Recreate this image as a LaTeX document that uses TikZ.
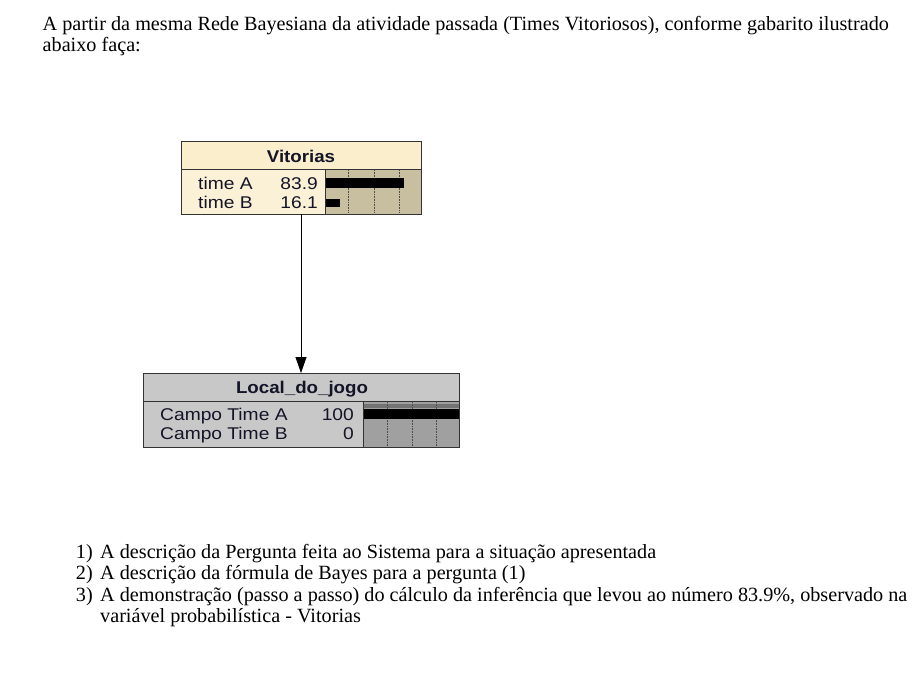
\documentclass[tikz,border=0pt]{standalone}
\usepackage{fontspec}
\setmainfont{Liberation Serif}
\newfontfamily\arialf{Liberation Sans}
\usetikzlibrary{arrows.meta}
\definecolor{creamT}{RGB}{250,238,204}
\definecolor{creamB}{RGB}{251,241,214}
\definecolor{tanbar}{RGB}{200,190,160}
\definecolor{grayB}{RGB}{200,200,200}
\definecolor{grayBar}{RGB}{160,160,160}
\definecolor{nodetxt}{RGB}{20,20,40}
\newcommand{\wlbl}[1]{\scalebox{1.13}[1]{#1}}
\newcommand{\wttl}[1]{\scalebox{1.1}[1]{#1}}
\tikzset{
  body/.style={font=\fontsize{20.2}{24}\selectfont, anchor=base west, inner sep=0pt},
  lbl/.style={font=\arialf\fontsize{17}{19}\selectfont, text=nodetxt, inner sep=0pt},
  ttl/.style={font=\arialf\bfseries\fontsize{17}{19}\selectfont, text=nodetxt, inner sep=0pt, anchor=base},
  grid/.style={densely dotted, line width=0.6pt, black!70},
  frame/.style={draw=black!80, line width=0.8pt},
}
\begin{document}
\begin{tikzpicture}[x=1pt,y=-1pt]
\useasboundingbox (0,0) rectangle (923,685);
\fill[white] (0,0) rectangle (923,685);
% header text
\node[body] (h1) at (42.5,31) {A partir da mesma Rede Bayesiana da atividade passada (Times Vitoriosos), conforme gabarito ilustrado};
\node[body] (h2) at (42.5,52) {abaixo faça:};
% Vitorias node
\fill[creamT] (181,141) rectangle (421,169);
\fill[creamB] (181,169) rectangle (325,214);
\fill[tanbar] (325,169) rectangle (421,214);
\foreach \gx in {348,374,399} \draw[grid] (\gx,170) -- (\gx,213);
\fill[black] (325,178) rectangle (404,188);
\fill[black] (325,199) rectangle (340,207);
\draw[frame] (181,141) rectangle (421,214);
\draw[frame] (181,169) -- (421,169);
\draw[frame] (325,169) -- (325,214);
\node[ttl] (vt) at (301,162) {\wttl{Vitorias}};
\node[lbl, anchor=base west] (va) at (198,189) {\wlbl{time A}};
\node[lbl, anchor=base east] (vav) at (318,189) {\wlbl{83.9}};
\node[lbl, anchor=base west] (vb) at (198,208) {\wlbl{time B}};
\node[lbl, anchor=base east] (vbv) at (318,208) {\wlbl{16.1}};
\coordinate (vbot) at (301,214);
% Local_do_jogo node
\fill[grayB] (143,373) rectangle (459,447);
\fill[grayBar] (363,401) rectangle (459,447);
\fill[black!55] (363,404) rectangle (459,408);
\foreach \gx in {387,412,436} \draw[grid] (\gx,402) -- (\gx,446);
\fill[black] (363,409) rectangle (459,419);
\draw[frame] (143,373) rectangle (459,447);
\draw[frame] (143,401) -- (459,401);
\draw[frame] (363,401) -- (363,447);
\node[ttl] (lt) at (302,393) {\wttl{Local\_do\_jogo}};
\node[lbl, anchor=base west] (la) at (160,420) {\wlbl{Campo Time A}};
\node[lbl, anchor=base east] (lav) at (354,420) {\wlbl{100}};
\node[lbl, anchor=base west] (lb) at (160,439) {\wlbl{Campo Time B}};
\node[lbl, anchor=base east] (lbv) at (354,439) {\wlbl{0}};
\coordinate (ltop) at (301,373);
\draw[line width=0.8pt, -{Triangle[length=16pt,width=11pt]}] (vbot) -- (ltop);
% list
\node[body, anchor=base east] (n1) at (93,558) {1)};
\node[body] (t1) at (100,558) {A descrição da Pergunta feita ao Sistema para a situação apresentada};
\node[body, anchor=base east] (n2) at (93,579.5) {2)};
\node[body] (t2) at (100,579.5) {A descrição da fórmula de Bayes para a pergunta (1)};
\node[body, anchor=base east] (n3) at (93,601) {3)};
\node[body] (t3) at (100,601) {A demonstração (passo a passo) do cálculo da inferência que levou ao número 83.9\%, observado na};
\node[body] (t4) at (100,622.5) {variável probabilística - Vitorias};
\end{tikzpicture}
\end{document}
